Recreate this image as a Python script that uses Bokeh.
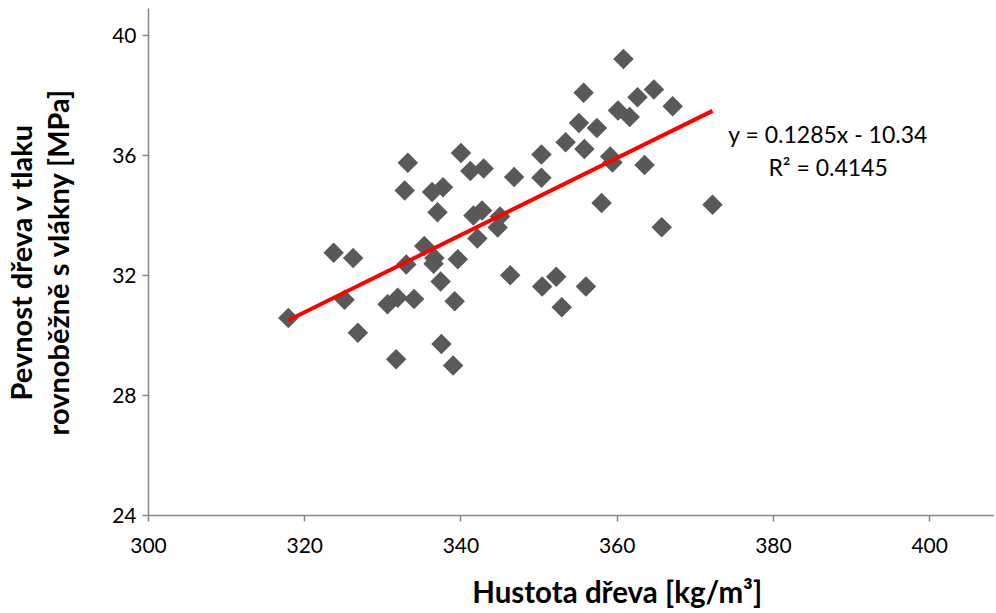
import math
from bokeh.plotting import figure
from bokeh.models import Range1d, Label, FixedTicker, LinearAxis
from bokeh.embed import file_html
from bokeh.resources import INLINE

# --- data ---
density = [317.9, 323.7, 326.2, 325.1, 326.8, 330.6, 331.9, 331.7, 332.8, 333.2,
           333.0, 334.0, 335.3, 336.3, 336.6, 336.5, 337.0, 337.4, 337.7, 337.5,
           339.0, 339.2, 339.6, 340.0, 341.2, 341.6, 342.7, 342.1, 342.9, 345.0,
           344.7, 346.3, 346.8, 350.3, 350.3, 350.4, 352.2, 352.9, 353.4, 355.1,
           355.7, 355.8, 356.0, 357.4, 358.0, 359.1, 359.4, 360.1, 360.8, 361.6,
           362.6, 363.5, 364.7, 365.7, 367.1, 372.2]
strength = [30.58, 32.76, 32.58, 31.19, 30.09, 31.04, 31.26, 29.21, 34.83, 35.76,
            32.37, 31.22, 32.98, 34.78, 32.58, 32.39, 34.11, 31.80, 34.94, 29.72,
            29.00, 31.14, 32.54, 36.08, 35.48, 34.00, 34.17, 33.23, 35.57, 33.97,
            33.60, 32.01, 35.28, 36.03, 35.26, 31.63, 31.96, 30.94, 36.44, 37.08,
            38.09, 36.22, 31.63, 36.92, 34.42, 35.97, 35.77, 37.50, 39.22, 37.28,
            37.94, 35.68, 38.20, 33.61, 37.64, 34.36]

trend_slope = 0.1285
trend_intercept = -10.34
equation_text = "y = 0.1285x - 10.34"
r2_text = "R² = 0.4145"

x_ticks = [300, 320, 340, 360, 380, 400]
y_ticks = [24, 28, 32, 36, 40]

x_title = "Hustota dřeva [kg/m³]"
y_title_1 = "Pevnost dřeva v tlaku"
y_title_2 = "rovnoběžně s vlákny [MPa]"

FONT = "Lato"
X_TITLE_CENTER = 360  # horizontal anchor of the x title (data units)

p = figure(width=994, height=612, output_backend="svg", toolbar_location=None,
           x_range=Range1d(300, 408.3), y_range=Range1d(24, 40.9),
           min_border_left=147, min_border_right=0, min_border_top=8,
           min_border_bottom=97)
p.outline_line_color = None
p.grid.visible = False
p.background_fill_color = "white"
p.border_fill_color = "white"

for ax, ticks in ((p.xaxis, x_ticks), (p.yaxis, y_ticks)):
    ax.ticker = FixedTicker(ticks=ticks)
    ax.axis_line_color = "#868686"
    ax.axis_line_width = 1.5
    ax.major_tick_line_color = "#868686"
    ax.major_tick_line_width = 1.5
    ax.major_tick_in = 0
    ax.major_tick_out = 6
    ax.minor_tick_line_color = None
    ax.major_label_text_font = FONT
    ax.major_label_text_font_size = "21px"
    ax.major_label_text_color = "#000000"
p.xaxis.major_label_standoff = 16
p.yaxis.major_label_standoff = 6

# two-line y axis title
p.yaxis.axis_label = y_title_1 + "\n" + y_title_2
p.yaxis.axis_label_text_font = FONT
p.yaxis.axis_label_text_font_size = "29px"
p.yaxis.axis_label_text_font_style = "bold"
p.yaxis.axis_label_text_color = "#000000"
p.yaxis.axis_label_text_line_height = 1.05
p.yaxis.axis_label_standoff = 34

# x title carried by a bare secondary axis placed below the main one
title_axis = LinearAxis(ticker=FixedTicker(ticks=[X_TITLE_CENTER]),
                        major_label_overrides={X_TITLE_CENTER: x_title})
title_axis.axis_line_color = None
title_axis.major_tick_line_color = None
title_axis.minor_tick_line_color = None
title_axis.major_tick_in = 0
title_axis.major_tick_out = 0
title_axis.major_label_standoff = 18
title_axis.major_label_text_font = FONT
title_axis.major_label_text_font_size = "29.5px"
title_axis.major_label_text_font_style = "bold"
title_axis.major_label_text_color = "#000000"
p.add_layout(title_axis, "below")

# scatter points (diamonds)
p.scatter(density, strength, marker="square", size=14.5, angle=math.pi / 4,
          fill_color="#595959", line_color=None)

# linear trendline
tx = [min(density), max(density)]
ty = [trend_slope * v + trend_intercept for v in tx]
p.line(tx, ty, line_color="#FF0000", line_width=4)

# equation labels
p.add_layout(Label(x=387.0, y=36.72, text=equation_text, text_align="center",
                   text_baseline="middle", text_font=FONT, text_font_size="23px",
                   text_color="#000000"))
p.add_layout(Label(x=387.0, y=35.63, text=r2_text, text_align="center",
                   text_baseline="middle", text_font=FONT, text_font_size="23px",
                   text_color="#000000"))

open("out.html", "w").write(file_html(p, INLINE))
